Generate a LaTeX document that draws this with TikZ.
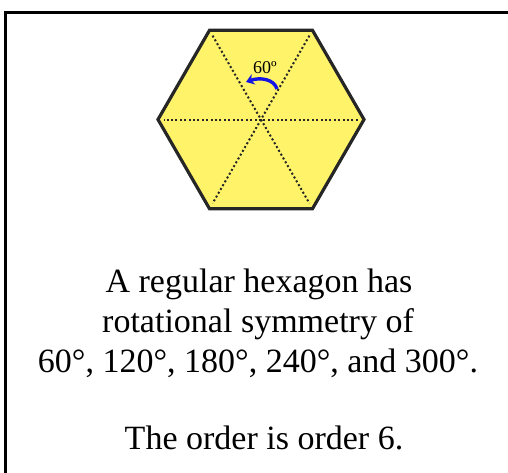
\documentclass[tikz,border=0pt]{standalone}
\usepackage{fontspec}
\setmainfont{Liberation Serif}
\usetikzlibrary{arrows.meta,calc}
\definecolor{hexfill}{RGB}{255,243,105}
\definecolor{arrblue}{RGB}{20,20,230}
\tikzset{
  frameline/.style={line width=2.2pt, black},
  hexagonshape/.style={fill=hexfill, draw=black!85, line width=3.2pt, line join=miter},
  diag/.style={line width=2pt, black!85, dash pattern=on 2pt off 2.4pt},
  rotarrow/.style={arrblue, line width=3.4pt, -{Stealth[length=8pt,width=11pt]}},
  bigtext/.style={font=\fontsize{34}{40}\selectfont, anchor=base, inner sep=0pt},
}
\begin{document}
\begin{tikzpicture}[x=1pt,y=-1pt]
\useasboundingbox (0,0) rectangle (508,472);
\coordinate (fa) at (5.5,473);
\coordinate (fb) at (5.5,12.5);
\coordinate (fc) at (509,12.5);
\draw[frameline] (fa) -- (fb) -- (fc);
\coordinate (O) at (261,119.5);
\foreach \i/\a in {1/0,2/60,3/120,4/180,5/240,6/300}{
  \coordinate (v\i) at ($(O)+({103*cos(\a)},{-103*sin(\a)})$);
}
\draw[hexagonshape] (v1) -- (v2) -- (v3) -- (v4) -- (v5) -- (v6) -- cycle;
\draw[diag] ($(v1)!0.03!(v4)$) -- ($(v1)!0.97!(v4)$);
\draw[diag] ($(v2)!0.03!(v5)$) -- ($(v2)!0.97!(v5)$);
\draw[diag] ($(v3)!0.03!(v6)$) -- ($(v3)!0.97!(v6)$);
\coordinate (as) at (277,89);
\coordinate (ae) at (246,82);
\draw[rotarrow] (as) .. controls (274,79) and (260,77) .. (ae);
\node[font=\fontsize{18}{20}\selectfont, inner sep=0pt, anchor=base] (lab) at (265,73.5) {60º};
\node[bigtext] (t1) at (259,292) {A regular hexagon has};
\node[bigtext] (t2) at (258,332) {rotational symmetry of};
\node[bigtext] (t3) at (258,372) {60°, 120°, 180°, 240°, and 300°.};
\node[bigtext] (t4) at (264,449) {The order is order 6.};
\end{tikzpicture}
\end{document}
